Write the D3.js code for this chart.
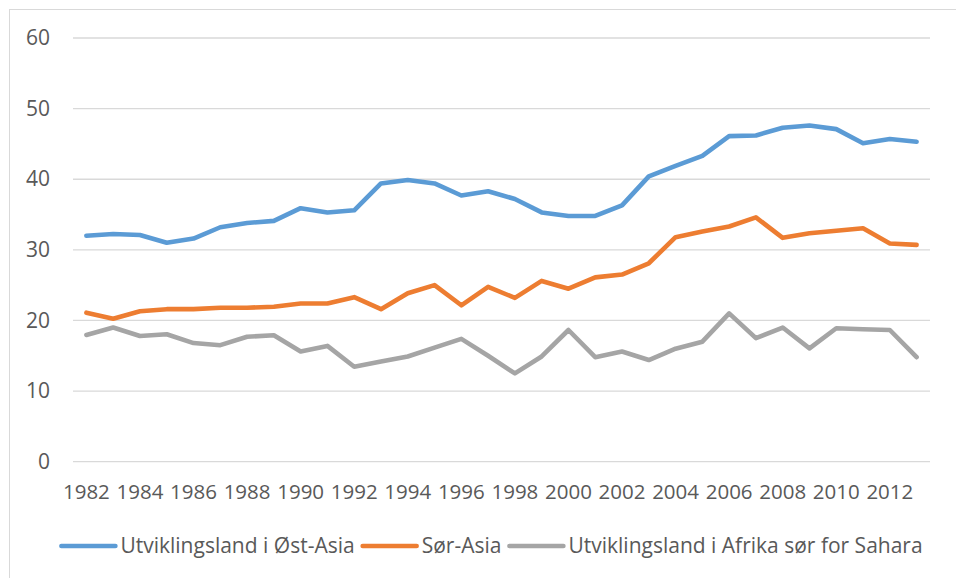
<!DOCTYPE html>
<html><head><meta charset="utf-8">
<script src="https://cdn.jsdelivr.net/npm/d3@7"></script>
<style>body{margin:0;background:#fff}svg{display:block}</style>
</head><body>
<svg id="c" width="956" height="578"></svg>
<script>
const years = d3.range(1982, 2014);
const eastAsia = [32.0,32.25,32.1,31.0,31.6,33.2,33.8,34.1,35.9,35.3,35.6,39.4,39.9,39.4,37.7,38.3,37.2,35.3,34.8,34.8,36.3,40.4,41.9,43.3,46.1,46.2,47.3,47.6,47.1,45.1,45.7,45.3];
const southAsia = [21.1,20.25,21.3,21.6,21.6,21.8,21.8,21.95,22.4,22.4,23.3,21.6,23.85,25.0,22.15,24.75,23.2,25.6,24.5,26.1,26.5,28.1,31.8,32.6,33.3,34.6,31.7,32.35,32.7,33.05,30.9,30.7];
const africa = [17.95,19.0,17.8,18.05,16.8,16.5,17.7,17.9,15.6,16.4,13.45,14.2,14.9,16.15,17.4,15.0,12.5,14.9,18.65,14.8,15.6,14.4,16.0,17.0,21.0,17.5,19.0,16.05,18.9,18.75,18.65,14.8];
const seriesNames = ["Utviklingsland i Øst-Asia","Sør-Asia","Utviklingsland i Afrika sør for Sahara"];
const seriesColors = ["#5B9BD5","#ED7D31","#A5A5A5"];
const yTicks = [0,10,20,30,40,50,60];
const xTickLabels = d3.range(1982, 2013, 2);

(function(){
const series = [eastAsia, southAsia, africa];
const svg = d3.select("#c");
const font = "'Open Sans', sans-serif";
const textColor = "#595959";

svg.append("rect").attr("x",9.5).attr("y",9.5).attr("width",960).attr("height",600)
  .attr("fill","none").attr("stroke","#D9D9D9").attr("stroke-width",1);

const pl = 73, pr = 930, pt = 38, pb = 461.7;
const x = d3.scaleBand().domain(years).range([pl, pr]);
const y = d3.scaleLinear().domain([0,60]).range([pb, pt]);
const xc = d => x(d) + x.bandwidth()/2;

svg.append("g").selectAll("line").data(yTicks).join("line")
  .attr("x1", pl).attr("x2", pr)
  .attr("y1", d => y(d)).attr("y2", d => y(d))
  .attr("stroke","#D9D9D9").attr("stroke-width",1.3);

const yAxis = d3.axisLeft(y).tickValues(yTicks).tickSize(0).tickPadding(0);
const gy = svg.append("g").attr("transform","translate(50,0)").call(yAxis);
gy.select(".domain").remove();
gy.selectAll("text").attr("font-family",font).attr("font-size",21).attr("fill",textColor);

const xAxis = d3.axisBottom(x).tickValues(xTickLabels).tickSize(0).tickPadding(0).tickFormat(d3.format("d"));
const gx = svg.append("g").attr("transform","translate(0,484)").call(xAxis);
gx.select(".domain").remove();
gx.selectAll("text").attr("font-family",font).attr("font-size",20.5).attr("fill",textColor);

const line = d3.line().x((d,i) => xc(years[i])).y(d => y(d));
svg.append("g").selectAll("path").data(series).join("path")
  .attr("d", d => line(d))
  .attr("fill","none")
  .attr("stroke",(d,i) => seriesColors[i])
  .attr("stroke-width",4.6)
  .attr("stroke-linejoin","round")
  .attr("stroke-linecap","round");

const lg = svg.append("g");
const items = lg.selectAll("g").data(seriesNames).join("g");
items.append("line").attr("x1",0).attr("x2",54).attr("y1",0).attr("y2",0)
  .attr("stroke",(d,i)=>seriesColors[i]).attr("stroke-width",4.6).attr("stroke-linecap","round");
items.append("text").attr("x",59).attr("y",0).attr("dy","0.35em")
  .attr("font-family",font).attr("font-size",21).attr("fill",textColor).text(d=>d);
let pos = 0; const offs = [];
items.each(function(d,i){
  offs.push(pos);
  const w = this.querySelector("text").getComputedTextLength();
  pos += 59 + w + 8;
});
const total = pos - 8;
const start = 492 - total/2;
items.attr("transform",(d,i)=>`translate(${start+offs[i]},546)`);
})();
</script>
</body></html>
